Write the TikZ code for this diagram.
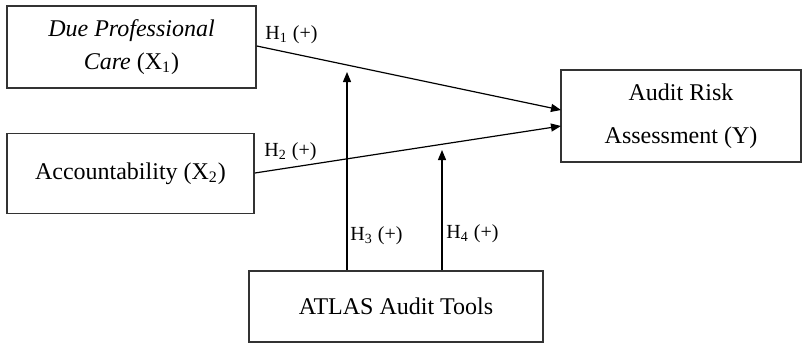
\documentclass[tikz,border=0pt]{standalone}
\usepackage{fontspec}
\setmainfont{Liberation Serif}
\usetikzlibrary{arrows.meta}

\tikzset{
  varbox/.style={draw=black!80, line width=0.8pt, align=center, inner sep=0pt, font=\fontsize{12}{14.5}\selectfont},
  hyp/.style={-{Triangle[length=5pt,width=4pt]}, line width=0.6pt},
  hlabel/.style={anchor=west, inner sep=0pt, font=\fontsize{10}{12}\selectfont}
}

\begin{document}
\begin{tikzpicture}[x=0.5pt, y=-0.5pt]
    \useasboundingbox (0,0) rectangle (802,349);

    % Define the positions of the nodes
    \node[varbox, minimum width=124.5pt, minimum height=41pt] (dpc) at (131.5,47)
        {\textit{Due Professional}\\[2pt]\textit{Care} (X\textsubscript{1})};
    \node[varbox, minimum width=123.5pt, minimum height=40pt] (acc) at (130.5,173.5)
        {Accountability (X\textsubscript{2})};
    \node[varbox, minimum width=120pt, minimum height=46pt] (ars) at (681,116)
        {Audit Risk\\[7pt]Assessment (Y)};
    \node[varbox, minimum width=147pt, minimum height=35.5pt] (atlas) at (396,306.5)
        {ATLAS Audit Tools};

    % Arrow ends
    \coordinate (in1) at (561,110);
    \coordinate (in2) at (561,126);
    \coordinate (mod1) at (347,72);
    \coordinate (mod2) at (442,150);

    % Draw the edges
    \draw[hyp] (dpc.east |- 0,46) -- (in1);
    \draw[hyp] (acc.east |- 0,173) -- (in2);
    \draw[hyp] (atlas.north -| mod1) -- (mod1);
    \draw[hyp] (atlas.north -| mod2) -- (mod2);

    % Labels
    \node[hlabel] (h1) at (265,35) {H\textsubscript{1} (+)};
    \node[hlabel] (h2) at (264,152) {H\textsubscript{2} (+)};
    \node[hlabel] (h3) at (350,236) {H\textsubscript{3} (+)};
    \node[hlabel] (h4) at (446,234) {H\textsubscript{4} (+)};
\end{tikzpicture}
\end{document}
